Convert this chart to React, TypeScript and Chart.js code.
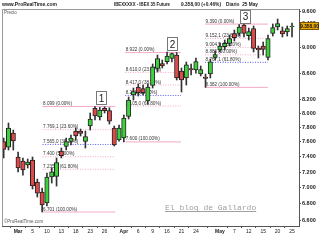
import React, { useEffect, useRef } from "react";
import { Chart, registerables } from "chart.js";

Chart.register(...registerables);

// Trading days (x position = index + FIRST_X; Mar 2 is at 0)
const FIRST_X = -3;
const dates = [
  "25 Feb", "26 Feb", "27 Feb",
  "2 Mar", "3 Mar", "4 Mar", "5 Mar", "6 Mar", "9 Mar", "10 Mar", "11 Mar", "12 Mar", "13 Mar",
  "16 Mar", "17 Mar", "18 Mar", "19 Mar", "20 Mar", "23 Mar", "24 Mar", "25 Mar", "26 Mar", "27 Mar",
  "30 Mar", "31 Mar", "1 Apr", "2 Apr", "3 Apr", "6 Apr", "7 Apr", "8 Apr", "9 Apr",
  "14 Apr", "15 Apr", "16 Apr", "17 Apr", "20 Apr", "21 Apr", "22 Apr", "23 Apr", "24 Apr",
  "27 Apr", "28 Apr", "29 Apr", "30 Apr", "4 May", "5 May", "6 May", "7 May", "8 May",
  "11 May", "12 May", "13 May", "14 May", "15 May", "18 May", "19 May", "20 May", "21 May", "22 May", "25 May",
];
const opens = [
  7603, 7530, 7722,
  7397, 7344, 7291, 7357, 7072, 6946, 6810, 7136, 7144, 7477,
  7540, 7606, 7750, 7750, 7606, 7820, 8073, 7947, 8073, 8039,
  7792, 7626, 7653, 7955, 8268, 8387, 8364, 8179, 8410,
  8670, 8749, 8776, 8827, 8883, 8632, 8524, 8670, 8647,
  8585, 8539, 8585, 8843, 8963, 9017, 9071, 9233, 9233,
  9375, 9196, 9316, 8990, 9028, 8843, 9233, 9341, 9279, 9258, 9341,
];
const highs = [
  7653, 7862, 7764,
  7463, 7384, 7370, 7397, 7110, 6996, 7187, 7252, 7384, 7517,
  7653, 7694, 7792, 7778, 7750, 8005, 8099, 8085, 8095, 8080,
  7820, 7834, 7976, 8238, 8372, 8432, 8417, 8432, 8741,
  8883, 8804, 8931, 8915, 8922, 8678, 8772, 8741, 8835,
  8710, 8585, 8819, 8947, 9077, 9126, 9208, 9291, 9380,
  9390, 9324, 9358, 9028, 9093, 9208, 9392, 9476, 9341, 9358, 9408,
];
const lows = [
  7384, 7490, 7490,
  7200, 7161, 7252, 6984, 6884, 6701, 6774, 7059, 7021, 7384,
  7490, 7558, 7626, 7681, 7517, 7764, 7905, 7905, 8005, 7848,
  7544, 7610, 7600, 7919, 8194, 8253, 8268, 8135, 8372,
  8616, 8678, 8741, 8772, 8493, 8312, 8417, 8570, 8600,
  8555, 8382, 8524, 8804, 8931, 8963, 9028, 9110, 9191,
  9175, 9126, 8931, 8835, 8883, 8804, 9191, 9291, 9175, 9191, 9175,
];
const closes = [
  7499, 7792, 7612,
  7252, 7226, 7331, 7021, 6933, 6786, 7136, 7204, 7324, 7416,
  7606, 7653, 7681, 7715, 7674, 7919, 7962, 8048, 8039, 7890,
  7558, 7792, 7933, 8194, 8320, 8304, 8304, 8387, 8696,
  8827, 8710, 8867, 8907, 8524, 8493, 8726, 8647, 8780,
  8655, 8516, 8776, 8891, 9028, 9071, 9150, 9166, 9341,
  9233, 9263, 8990, 8963, 8974, 9150, 9331, 9400, 9225, 9316, 9358,
];

// Axis ticks
const yTicks = [6600, 6800, 7000, 7200, 7400, 7600, 7800, 8000, 8200, 8600, 9000, 9400, 9600];
const xTickPos = [0, 3, 6, 9, 12, 15, 18, 22, 25, 28, 31, 34, 37, 42, 45, 48, 51, 54, 57];
const xTickText = ["Mar", "5", "10", "13", "18", "23", "26", "Apr", "6", "9", "16", "21", "24", "May", "7", "12", "15", "20", "25"];

// Fibonacci retracements
const fibHigh = [8099, 8922, 9390];
const fibLow = [6701, 7600, 8382];
const fibStart = [5.1, 22.3, 38.9];
const fibEnd = [20.2, 33.9, 52.0];
const fibBlueLevel = [38.2, 50, 61.8];
const fibLevels = [0, 23.6, 38.2, 50, 61.8, 100];

// Wave markers
const markerText = ["1", "2", "3"];
const markerX = [17.3, 32.1, 47.2];
const markerY = [8230, 9061, 9527];

const lastPrice = 9358;
const lastChange = 0.46;

const GREEN = "#3fcf3f";
const RED = "#dd4a4a";
const PINK = "#f4a9c9";
const BLUE = "#5a5af0";

function fmtNum(v: number, dec: number): string {
  const s = v.toFixed(dec);
  const [ip, fp] = s.split(".");
  const withSep = ip.replace(/\B(?=(\d{3})+(?!\d))/g, ".");
  return fp ? withSep + "," + fp : withSep;
}

const overlay = {
  id: "overlay",
  beforeDatasetsDraw(chart: any) {
    const { ctx, scales } = chart;
    const x = scales.x;
    const y = scales.y;
    ctx.save();
    ctx.font = "4.6px Arial";
    ctx.fillStyle = "#333";
    ctx.textAlign = "left";
    ctx.textBaseline = "alphabetic";
    fibHigh.forEach((h, k) => {
      const l = fibLow[k];
      fibLevels.forEach((p) => {
        const v = h - (p / 100) * (h - l);
        const dec = p === 23.6 || p === 38.2 || p === 61.8 ? 1 : 0;
        const txt = fmtNum(v, dec) + " (" + p.toFixed(2) + "%)";
        ctx.fillText(txt, x.getPixelForValue(fibStart[k]) + 0.5, y.getPixelForValue(v) - 1.5);
      });
    });
    ctx.restore();
  },
  afterDatasetsDraw(chart: any) {
    const { ctx, scales } = chart;
    const x = scales.x;
    const y = scales.y;
    ctx.save();
    markerText.forEach((t, i) => {
      const cx = x.getPixelForValue(markerX[i]);
      const cy = y.getPixelForValue(markerY[i]);
      ctx.fillStyle = "#fff";
      ctx.strokeStyle = "#777";
      ctx.lineWidth = 1;
      ctx.fillRect(Math.round(cx - 5) + 0.5, Math.round(cy - 6.5) + 0.5, 10, 13);
      ctx.strokeRect(Math.round(cx - 5) + 0.5, Math.round(cy - 6.5) + 0.5, 10, 13);
      ctx.fillStyle = "#222";
      ctx.font = "10px Arial";
      ctx.textAlign = "center";
      ctx.textBaseline = "middle";
      ctx.fillText(t, Math.round(cx) + 0.5, Math.round(cy) + 1.5);
    });
    ctx.restore();
  },
  afterDraw(chart: any) {
    const { ctx, chartArea, scales } = chart;
    const y = scales.y;
    ctx.save();
    // frame
    ctx.strokeStyle = "#999";
    ctx.lineWidth = 1;
    ctx.beginPath();
    ctx.moveTo(chartArea.left + 0.5, chartArea.bottom);
    ctx.lineTo(chartArea.left + 0.5, chartArea.top + 0.5);
    ctx.lineTo(chartArea.right, chartArea.top + 0.5);
    ctx.stroke();
    // header
    ctx.fillStyle = "#222";
    ctx.textBaseline = "middle";
    ctx.textAlign = "left";
    ctx.font = "bold 5px Arial";
    ctx.fillText("www.ProRealTime.com", 2, 4.5, 55);
    ctx.fillText("IBEXXXXX - IBEX 35 Future", 114, 4.5, 56);
    ctx.fillText(fmtNum(lastPrice, 2) + " (+" + lastChange.toFixed(2) + "%)", 181, 4.5, 40);
    ctx.fillText("Diario  25 May", 226, 4.5, 32);
    // inner captions
    ctx.font = "4.5px Arial";
    ctx.fillStyle = "#555";
    ctx.fillText("Precio", chartArea.left + 2, chartArea.top + 3.5);
    ctx.fillText("\u00a9ProRealTime.com", chartArea.left + 2, chartArea.bottom - 4);
    // watermark
    ctx.font = '8px "Liberation Mono"';
    ctx.fillStyle = "#a0a0a0";
    ctx.fillText("El blog de Gallardo", 165, 207.5);
    const w = ctx.measureText("El blog de Gallardo").width;
    ctx.strokeStyle = "#a0a0a0";
    ctx.beginPath();
    ctx.moveTo(165, 211.5);
    ctx.lineTo(165 + w, 211.5);
    ctx.stroke();
    // price tag
    const py = Math.round(y.getPixelForValue(lastPrice));
    ctx.fillStyle = "#e8a80c";
    ctx.fillRect(300, py - 4, 19, 8);
    ctx.strokeStyle = "#7a5a00";
    ctx.strokeRect(300.5, py - 3.5, 18, 7);
    ctx.fillStyle = "#111";
    ctx.font = "bold 4.8px Arial";
    ctx.textAlign = "center";
    ctx.fillText(fmtNum(lastPrice, 2), 309.5, py + 0.5);
    ctx.restore();
  },
};

export default function App() {
  const ref = useRef<HTMLCanvasElement>(null);
  useEffect(() => {
    const xs = dates.map((_, i) => i + FIRST_X);
    const up = closes.map((c, i) => c >= opens[i]);
    const fibSets: any[] = [];
    fibHigh.forEach((h, k) => {
      const l = fibLow[k];
      fibLevels.forEach((p) => {
        const v = h - (p / 100) * (h - l);
        const solid = p === 0 || p === 100;
        const blue = p === fibBlueLevel[k];
        fibSets.push({
          type: "line",
          data: [
            { x: fibStart[k], y: v },
            { x: fibEnd[k], y: v },
          ],
          borderColor: blue ? BLUE : PINK,
          borderWidth: 1,
          borderDash: solid ? [] : [1, 1.5],
          pointRadius: 0,
          fill: false,
          order: 5,
        });
      });
    });
    const chart = new Chart(ref.current as HTMLCanvasElement, {
      type: "bar",
      data: {
        datasets: [
          {
            type: "bar",
            label: "body",
            data: xs.map((x, i) => ({ x, y: [Math.min(opens[i], closes[i]), Math.max(opens[i], closes[i])] })),
            backgroundColor: up.map((u) => (u ? GREEN : RED)),
            borderColor: "#222",
            borderWidth: 1,
            borderSkipped: false,
            barThickness: 4.4,
            grouped: false,
            order: 0,
          } as any,
          {
            type: "bar",
            label: "wick",
            data: xs.map((x, i) => ({ x, y: [lows[i], highs[i]] })),
            backgroundColor: "#333",
            borderWidth: 0,
            barThickness: 1,
            grouped: false,
            order: 1,
          } as any,
          ...fibSets,
        ],
      },
      options: {
        responsive: false,
        animation: false,
        devicePixelRatio: 1,
        layout: { padding: { left: 2, top: 9, right: 0, bottom: 0 } },
        plugins: { legend: { display: false }, tooltip: { enabled: false } },
        scales: {
          x: {
            type: "linear",
            min: -3.35,
            max: 58.45,
            offset: false,
            afterBuildTicks: (s: any) => {
              s.ticks = xTickPos.map((v) => ({ value: v }));
            },
            afterFit: (s: any) => {
              s.height = 14;
            },
            ticks: {
              autoSkip: false,
              maxRotation: 0,
              padding: 1,
              color: "#222",
              callback: (_v: any, i: number) => xTickText[i],
              font: (c: any) => ({
                size: 5,
                family: "Arial",
                weight: isNaN(Number(xTickText[c.index])) ? "bold" : "normal",
              }),
            },
            grid: { drawOnChartArea: false, tickLength: 2, color: "#555" },
            border: { display: true, color: "#555" },
          },
          y: {
            type: "logarithmic",
            position: "right",
            min: 6535,
            max: 9648,
            afterBuildTicks: (s: any) => {
              s.ticks = yTicks.map((v) => ({ value: v }));
            },
            afterFit: (s: any) => {
              s.width = 21;
            },
            ticks: {
              autoSkip: false,
              padding: 1,
              color: "#222",
              font: { size: 5.5, weight: "bold", family: "Arial" },
              callback: (v: any) => fmtNum(Number(v), 0),
            },
            grid: { drawOnChartArea: false, tickLength: 2, color: "#555" },
            border: { display: true, color: "#555" },
          },
        },
      } as any,
      plugins: [overlay],
    });
    return () => chart.destroy();
  }, []);
  return (
    <div style={{ position: "fixed", left: 0, top: 0, width: 320, height: 240, background: "#fff" }}>
      <canvas ref={ref} width={320} height={240} style={{ display: "block", width: 320, height: 240 }} />
    </div>
  );
}
